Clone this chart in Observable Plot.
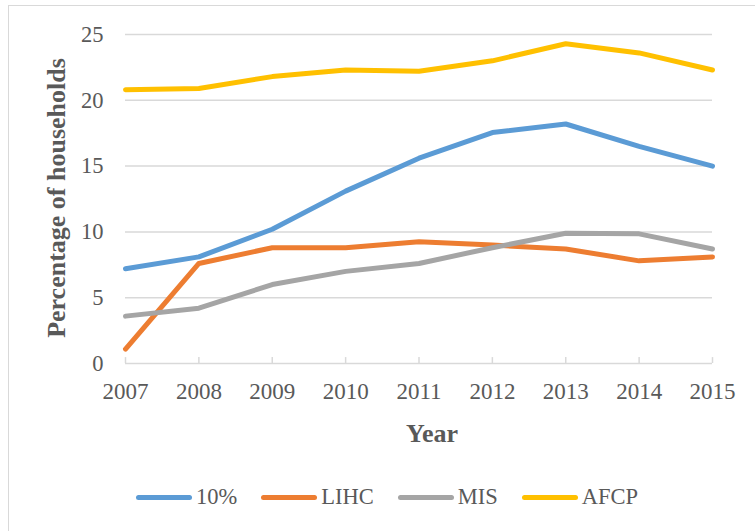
<!DOCTYPE html>
<html>
<head>
<meta charset="utf-8">
<script src="https://cdn.jsdelivr.net/npm/d3@7"></script>
<script src="https://cdn.jsdelivr.net/npm/@observablehq/plot@0.6"></script>
<style>
  html, body { margin: 0; padding: 0; background: #fff; overflow: hidden; }
  #wrap { position: relative; width: 755px; height: 531px; font-family: "Liberation Serif", "Times New Roman", serif; color: #595959; }
  #frame { position: absolute; left: 8px; top: 5px; width: 800px; height: 600px; border: 1.5px solid #d9d9d9; box-sizing: border-box; }
  #chart { position: absolute; left: 0; top: 0; }
  .ytitle { position: absolute; left: 57px; top: 198px; transform: translate(-50%, -50%) rotate(-90deg); font-weight: bold; font-size: 26px; white-space: nowrap; }
  .xtitle { position: absolute; left: 432px; top: 434px; transform: translate(-50%, -50%); font-weight: bold; font-size: 26px; white-space: nowrap; }
  #legend { position: absolute; left: 136px; top: 497px; transform: translateY(-50%); display: flex; align-items: center; font-size: 22.5px; }
  .item { display: flex; align-items: center; margin-right: 24px; }
  .sw { width: 56px; height: 5px; border-radius: 3px; margin-right: 4px; }
</style>
</head>
<body>
<div id="wrap">
  <div id="frame"></div>
  <div id="chart"></div>
  <div class="ytitle">Percentage of households</div>
  <div class="xtitle">Year</div>
  <div id="legend"></div>
</div>
<script>
const years = [2007, 2008, 2009, 2010, 2011, 2012, 2013, 2014, 2015];
const seriesNames = ["10%", "LIHC", "MIS", "AFCP"];
const seriesColors = ["#5b9bd5", "#ed7d31", "#a5a5a5", "#ffc000"];
const tenPercent = [7.2, 8.1, 10.2, 13.1, 15.6, 17.55, 18.2, 16.5, 15.0];
const lihc = [1.1, 7.6, 8.8, 8.8, 9.25, 9.0, 8.7, 7.8, 8.1];
const mis = [3.6, 4.2, 6.0, 7.0, 7.6, 8.8, 9.9, 9.85, 8.7];
const afcp = [20.8, 20.9, 21.8, 22.3, 22.2, 23.0, 24.3, 23.6, 22.3];
const yTicks = [0, 5, 10, 15, 20, 25];

const seriesValues = [tenPercent, lihc, mis, afcp];
const data = [];
seriesNames.forEach((name, i) => {
  years.forEach((yr, j) => data.push({ series: name, year: yr, value: seriesValues[i][j] }));
});

const chart = Plot.plot({
  width: 755,
  height: 460,
  marginLeft: 125,
  marginRight: 43,
  marginTop: 34,
  marginBottom: 97,
  style: { fontFamily: '"Liberation Serif", "Times New Roman", serif', color: "#595959", background: "transparent", overflow: "visible" },
  x: { domain: [2007, 2015] },
  y: { domain: [0, 25] },
  color: { domain: seriesNames, range: seriesColors },
  marks: [
    Plot.gridY(yTicks.filter(d => d > 0), { stroke: "#d9d9d9", strokeOpacity: 1, strokeWidth: 1.5 }),
    Plot.ruleY([0], { stroke: "#d9d9d9", strokeWidth: 1.5 }),
    Plot.ruleX(years, { x: d => d, y1: 0, y2: 0.45, stroke: "#d9d9d9", strokeWidth: 1.5 }),
    Plot.axisY({ ticks: yTicks, tickSize: 0, tickPadding: 22, fontSize: 22.5, label: null }),
    Plot.axisX({ ticks: years, tickFormat: d => String(d), tickSize: 0, tickPadding: 19, fontSize: 23, label: null }),
    Plot.line(data, { x: "year", y: "value", z: "series", stroke: "series", strokeWidth: 5, strokeLinejoin: "round" })
  ]
});
document.getElementById("chart").appendChild(chart);

const legend = document.getElementById("legend");
seriesNames.forEach((name, i) => {
  const item = document.createElement("div");
  item.className = "item";
  const sw = document.createElement("div");
  sw.className = "sw";
  sw.style.background = seriesColors[i];
  const label = document.createElement("span");
  label.textContent = name;
  item.appendChild(sw);
  item.appendChild(label);
  legend.appendChild(item);
});
</script>
</body>
</html>
